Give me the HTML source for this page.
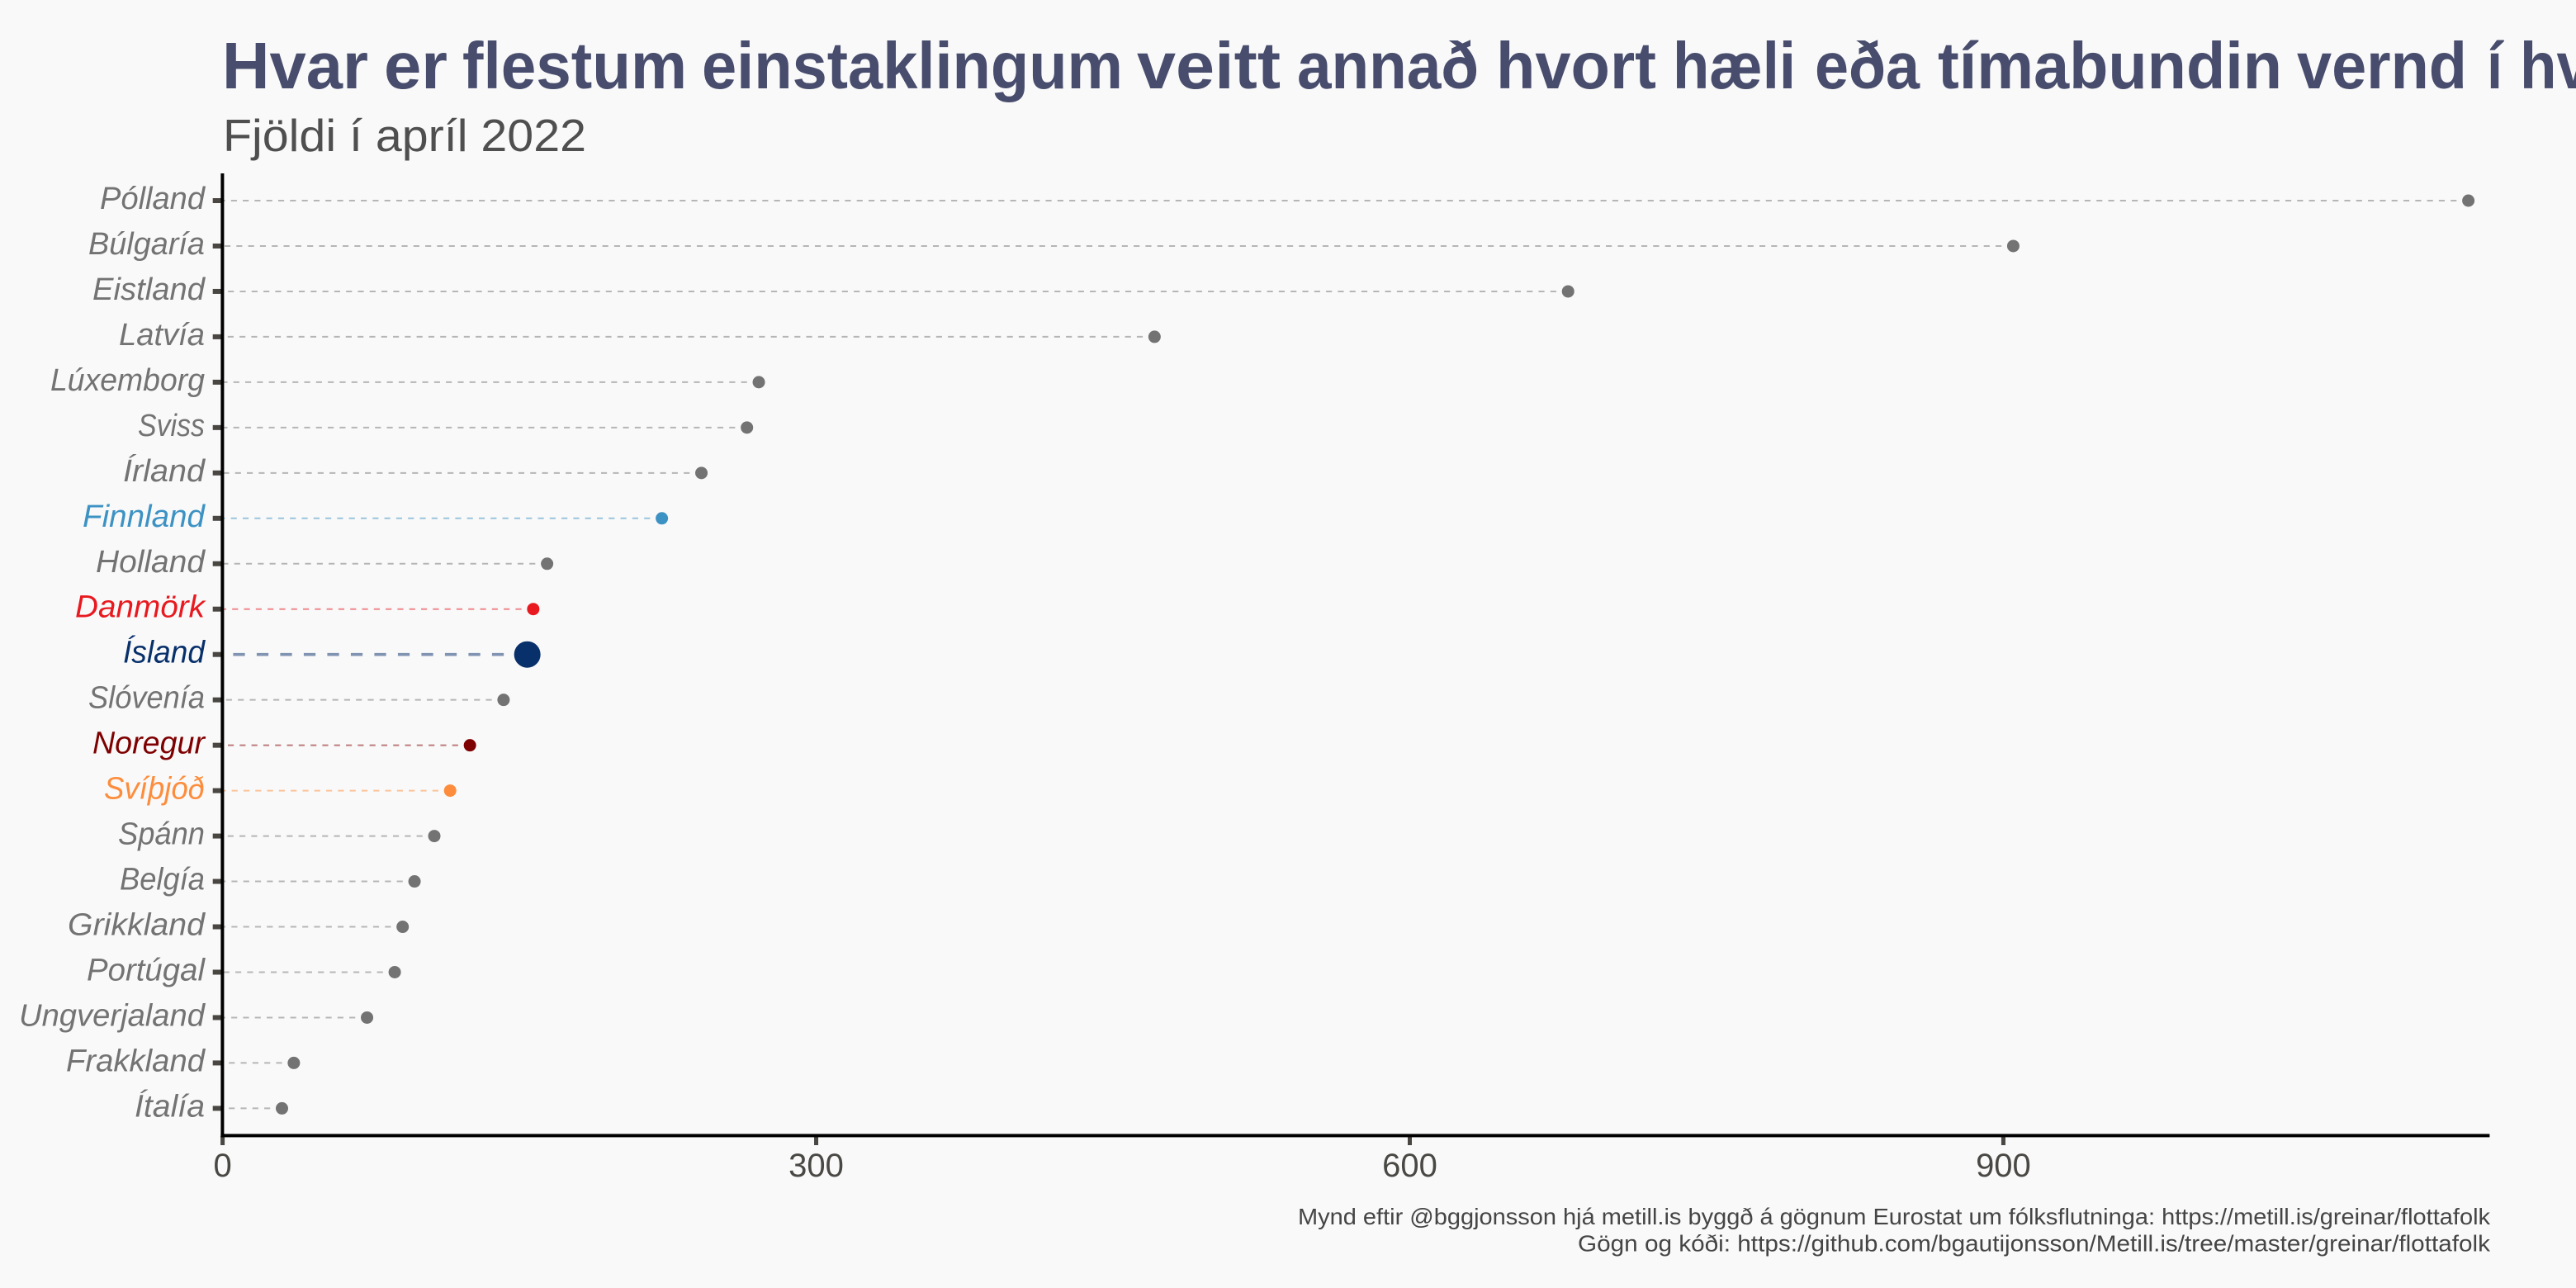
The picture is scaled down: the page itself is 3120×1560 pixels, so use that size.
<!DOCTYPE html>
<html lang="is">
<head>
<meta charset="utf-8">
<title>Hvar er flestum einstaklingum veitt annað hvort hæli eða tímabundin vernd</title>
<style>
  html, body { margin: 0; padding: 0; background: #f9f9f9; width: 3120px; height: 1560px; overflow: hidden; }
  svg { display: block; font-family: "Liberation Sans", sans-serif; }
</style>
</head>
<body>
<svg id="chart" xmlns="http://www.w3.org/2000/svg" width="3120" height="1560" viewBox="0 0 3120 1560">
  <rect x="0" y="0" width="3120" height="1560" fill="#f9f9f9"/>
  <text y="107" font-size="80" font-weight="700" fill="#484d6d" lengthAdjust="spacingAndGlyphs"><tspan x="269" textLength="177" lengthAdjust="spacingAndGlyphs">Hvar</tspan> <tspan x="465" textLength="77" lengthAdjust="spacingAndGlyphs">er</tspan> <tspan x="560" textLength="272" lengthAdjust="spacingAndGlyphs">flestum</tspan> <tspan x="850" textLength="510" lengthAdjust="spacingAndGlyphs">einstaklingum</tspan> <tspan x="1377" textLength="174" lengthAdjust="spacingAndGlyphs">veitt</tspan> <tspan x="1571" textLength="220" lengthAdjust="spacingAndGlyphs">annað</tspan> <tspan x="1812" textLength="194" lengthAdjust="spacingAndGlyphs">hvort</tspan> <tspan x="2026" textLength="149" lengthAdjust="spacingAndGlyphs">hæli</tspan> <tspan x="2198" textLength="127" lengthAdjust="spacingAndGlyphs">eða</tspan> <tspan x="2347" textLength="417" lengthAdjust="spacingAndGlyphs">tímabundin</tspan> <tspan x="2782" textLength="206" lengthAdjust="spacingAndGlyphs">vernd</tspan> <tspan x="3012" textLength="19" lengthAdjust="spacingAndGlyphs">í</tspan> <tspan x="3052" textLength="85" lengthAdjust="spacingAndGlyphs">hv</tspan></text>
  <text x="270" y="183" font-size="55" fill="#4f4f4f" textLength="440" lengthAdjust="spacingAndGlyphs">Fjöldi í apríl 2022</text>
  <g id="marks"></g>
  <g id="y-ticks"></g>
  <g id="x-ticks"></g>
  <rect x="267.4" y="210" width="4" height="1167.4" fill="#000"/>
  <rect x="267.4" y="1373.4" width="2748" height="4" fill="#000"/>
  <text x="3016" y="1483" text-anchor="end" font-size="28" fill="#454545" textLength="1444" lengthAdjust="spacingAndGlyphs">Mynd eftir @bggjonsson hjá metill.is byggð á gögnum Eurostat um fólksflutninga: https://metill.is/greinar/flottafolk</text>
  <text x="3016" y="1515.5" text-anchor="end" font-size="28" fill="#454545" textLength="1105" lengthAdjust="spacingAndGlyphs">Gögn og kóði: https://github.com/bgautijonsson/Metill.is/tree/master/greinar/flottafolk</text>
</svg>
<script>
const countries = ["Pólland","Búlgaría","Eistland","Latvía","Lúxemborg","Sviss","Írland","Finnland","Holland","Danmörk","Ísland","Slóvenía","Noregur","Svíþjóð","Spánn","Belgía","Grikkland","Portúgal","Ungverjaland","Frakkland","Ítalía"];
const counts = [1135,905,680,471,271,265,242,222,164,157,154,142,125,115,107,97,91,87,73,36,30];
const xTickValues = [0,300,600,900];

const NS = "http://www.w3.org/2000/svg";
const highlightColor = { "Finnland":"#3d92c4", "Danmörk":"#e8191f", "Ísland":"#08306b", "Noregur":"#7f0000", "Svíþjóð":"#fd8d3c" };
const labelFit = { "Pólland":127, "Búlgaría":141, "Eistland":136, "Latvía":104, "Lúxemborg":187, "Sviss":81, "Írland":99, "Finnland":148, "Holland":132, "Danmörk":157, "Ísland":99, "Slóvenía":141, "Noregur":136, "Svíþjóð":122, "Spánn":105, "Belgía":103, "Grikkland":166, "Portúgal":143, "Ungverjaland":225, "Frakkland":168, "Ítalía":85 };

function xScale(v) { return 269.6 + v * 2.3965; }
function yScale(i) { return 243 + i * 54.97; }

function make(tag, attrs) {
  const el = document.createElementNS(NS, tag);
  for (const k in attrs) el.setAttribute(k, attrs[k]);
  return el;
}

const marks = document.getElementById("marks");
const yTicks = document.getElementById("y-ticks");
const xTicks = document.getElementById("x-ticks");

countries.forEach(function (name, i) {
  const color = highlightColor[name] || "#737373";
  const isIceland = name === "Ísland";
  const cx = xScale(counts[i]);
  const cy = yScale(i);
  const lw = isIceland ? 3.6 : 2;
  const dash = isIceland ? 14.25 : 7.15;

  const line = make("line", { x1: cx, y1: cy, x2: xScale(0), y2: cy, stroke: color, "stroke-opacity": 0.5, "stroke-width": lw, "stroke-dasharray": dash + " " + dash });
  
  
  marks.appendChild(line);

  const dot = make("circle", { cx: cx, cy: cy, r: isIceland ? 16 : 7.5, fill: color });
  
  
  marks.appendChild(dot);

  const tick = make("rect", { x: 257.7, y: cy - 3, width: 10, height: 6, fill: "#4a4743" });
  
  
  yTicks.appendChild(tick);

  const label = make("text", { x: 248, y: cy + 10, "text-anchor": "end", "font-size": 38, "font-style": "italic", fill: color, textLength: labelFit[name], lengthAdjust: "spacingAndGlyphs" });
  
  
  label.textContent = name;
  yTicks.appendChild(label);
});

xTickValues.forEach(function (v) {
  const px = xScale(v);
  const tick = make("rect", { x: px - 2.5, y: 1376, width: 5, height: 11, fill: "#4a4743" });
  
  
  xTicks.appendChild(tick);

  const label = make("text", { x: px, y: 1425, "text-anchor": "middle", "font-size": 40, fill: "#4a4844" });
  
  
  label.textContent = String(v);
  xTicks.appendChild(label);
});
</script>
</body>
</html>
